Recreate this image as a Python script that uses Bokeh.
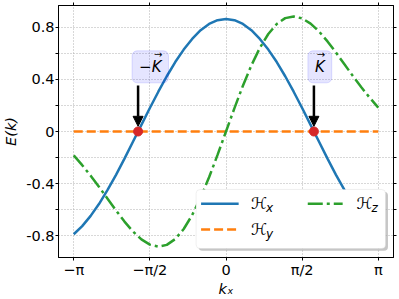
import numpy as np
from bokeh.plotting import figure
from bokeh.models import (Range1d, FixedTicker, LinearAxis, Label, Arrow, NormalHead,
                          BoxAnnotation, CustomLabelingPolicy)
from bokeh.embed import file_html
from bokeh.resources import INLINE

# ---------------- data ----------------
# sampling positions k_x = n*pi/18, n = -18..18
kx = [n * np.pi / 18 for n in range(-18, 19)]
hx = [-0.790, -0.728, -0.649, -0.556, -0.449, -0.333, -0.209, -0.079, 0.051,
      0.181, 0.306, 0.425, 0.534, 0.630, 0.712, 0.779, 0.827, 0.856, 0.866,
      0.856, 0.827, 0.779, 0.712, 0.630, 0.534, 0.425, 0.306, 0.181, 0.051,
      -0.079, -0.209, -0.333, -0.449, -0.556, -0.649, -0.728, -0.790]
hy = [0.0] * 37
hz = [-0.184, -0.259, -0.340, -0.427, -0.517, -0.607, -0.693, -0.769, -0.830,
      -0.870, -0.885, -0.872, -0.827, -0.750, -0.643, -0.508, -0.352, -0.180, 0.0,
      0.180, 0.352, 0.508, 0.643, 0.750, 0.827, 0.872, 0.885, 0.870, 0.830,
      0.769, 0.693, 0.607, 0.517, 0.427, 0.340, 0.259, 0.184]
k_points = [-1.814, 1.814]
k_values = [0.0, 0.0]
k_names = ["\u2212K", "K"]

x_ticks = [-np.pi, -np.pi / 2, 0.0, np.pi / 2, np.pi]
x_labels = ["\u2212\u03c0", "\u2212\u03c0/2", "0", "\u03c0/2", "\u03c0"]
y_ticks = [-0.8, -0.6, -0.4, -0.2, 0.0, 0.2, 0.4, 0.6, 0.8]
y_labels = ["-0.8", "-0.6", "-0.4", "-0.2", "0", "0.2", "0.4", "0.6", "0.8"]

series_names = ["x", "y", "z"]
colors = ["#1f77b4", "#ff7f0e", "#2ca02c"]
dashes = ["solid", "9 4", "15 4 3 4"]

# ---------------- figure ----------------
p = figure(width=399, height=299,
           x_range=Range1d(-3.456, 3.456), y_range=Range1d(-0.969, 0.969),
           output_backend="svg", toolbar_location=None,
           min_border_left=57, min_border_right=6, min_border_top=5, min_border_bottom=42,
           background_fill_color="white", border_fill_color="white")
p.outline_line_color = "black"
p.outline_line_width = 1

no_labels = CustomLabelingPolicy(code="return []")
every_other = CustomLabelingPolicy(code="for (const i of indices) { if (i % 2 == 0) { yield i } }")


def style_axis(ax, labels=True):
    ax.axis_line_color = "black"
    ax.axis_line_width = 1
    ax.major_tick_line_color = "black"
    ax.major_tick_line_width = 1
    ax.major_tick_in = 0
    ax.major_tick_out = 3
    ax.minor_tick_line_color = None
    ax.major_label_text_font = "DejaVu Sans"
    ax.major_label_text_color = "black"
    if labels:
        ax.major_label_text_font_size = "14.5px"
        ax.major_label_standoff = 1
    else:
        ax.major_label_text_font_size = "0px"
        ax.major_label_standoff = 0
        ax.major_label_policy = no_labels
    ax.axis_label_text_font = "DejaVu Sans"
    ax.axis_label_text_font_size = "14.5px"
    ax.axis_label_text_font_style = "italic"
    ax.axis_label_text_color = "black"
    ax.axis_label_standoff = 0


xa = p.xaxis[0]
xa.ticker = FixedTicker(ticks=x_ticks)
xa.major_label_overrides = {t: l for t, l in zip(x_ticks, x_labels)}
xa.axis_label = "k\u2093"
style_axis(xa)

ya = p.yaxis[0]
ya.ticker = FixedTicker(ticks=y_ticks)
ya.major_label_overrides = {t: l for t, l in zip(y_ticks, y_labels)}
ya.axis_label = "E(k)"
style_axis(ya)
ya.major_label_policy = every_other
ya.axis_label_standoff = 4

top = LinearAxis(ticker=FixedTicker(ticks=x_ticks))
style_axis(top, labels=False)
p.add_layout(top, "above")
right = LinearAxis(ticker=FixedTicker(ticks=y_ticks))
style_axis(right, labels=False)
p.add_layout(right, "right")

p.xgrid.ticker = FixedTicker(ticks=x_ticks)
p.ygrid.ticker = FixedTicker(ticks=y_ticks)
for g in (p.xgrid[0], p.ygrid[0]):
    g.grid_line_color = "#b0b0b0"
    g.grid_line_dash = "1 2"
    g.grid_line_width = 1

# ---------------- curves ----------------
for vals, c, d in zip([hx, hy, hz], colors, dashes):
    p.line(kx, vals, line_color=c, line_width=2.5, line_dash=d)

p.scatter(k_points, k_values, size=9, fill_color="#d62728", line_color="#d62728")

# ---------------- K annotations ----------------
vec_offsets = [20, 7]   # where the vector arrow sits above the K glyph (px)
for kp, name, vo in zip(k_points, k_names, vec_offsets):
    p.add_layout(Arrow(end=NormalHead(size=10, fill_color="black", line_color="black"),
                       x_start=kp, y_start=0.354, x_end=kp, y_end=0.04,
                       line_color="black", line_width=2.5))
    p.add_layout(Label(x=kp, y=0.505, x_offset=-6, y_offset=-1, text=name,
                       text_font="DejaVu Sans",
                       text_font_size="15px", text_font_style="italic",
                       text_align="left", text_baseline="middle", text_color="black",
                       padding=7, border_radius=5,
                       background_fill_color="blue", background_fill_alpha=0.1,
                       border_line_color="blue", border_line_alpha=0.12))
    p.add_layout(Label(x=kp, y=0.505, x_offset=vo, y_offset=11, text="\u2192",
                       text_font="DejaVu Sans", text_font_size="10px",
                       text_align="center", text_baseline="middle", text_color="black"))

# ---------------- legend ----------------
lg_left, lg_right, lg_top, lg_bottom = -0.617, 3.292, -0.446, -0.900
p.add_layout(BoxAnnotation(left=lg_left + 0.05, right=lg_right + 0.05,
                           top=lg_top - 0.018, bottom=lg_bottom - 0.018,
                           fill_color="#a0a0a0", fill_alpha=0.6, line_color=None,
                           border_radius=4))
p.add_layout(BoxAnnotation(left=lg_left, right=lg_right, top=lg_top, bottom=lg_bottom,
                           fill_color="white", fill_alpha=1.0, line_color="#cccccc",
                           line_width=1, border_radius=4))

entries = [(-0.514, 0.261, -0.556), (-0.514, 0.261, -0.754), (1.687, 2.407, -0.556)]
label_x = [0.514, 0.514, 2.695]
for (x0, x1, yy), lx, c, d, nm in zip(entries, label_x, colors, dashes, series_names):
    p.line([x0, x1], [yy, yy], line_color=c, line_width=2.5, line_dash=d, level="overlay")
    p.add_layout(Label(x=lx, y=yy, text="\u210b", text_font="DejaVu Sans",
                       text_font_size="16px", text_baseline="middle", text_color="black",
                       level="overlay"))
    p.add_layout(Label(x=lx, y=yy, x_offset=15, y_offset=-4, text=nm,
                       text_font="DejaVu Sans", text_font_size="12px",
                       text_font_style="italic", text_baseline="middle",
                       text_color="black", level="overlay"))

open("out.html", "w").write(file_html(p, INLINE))
